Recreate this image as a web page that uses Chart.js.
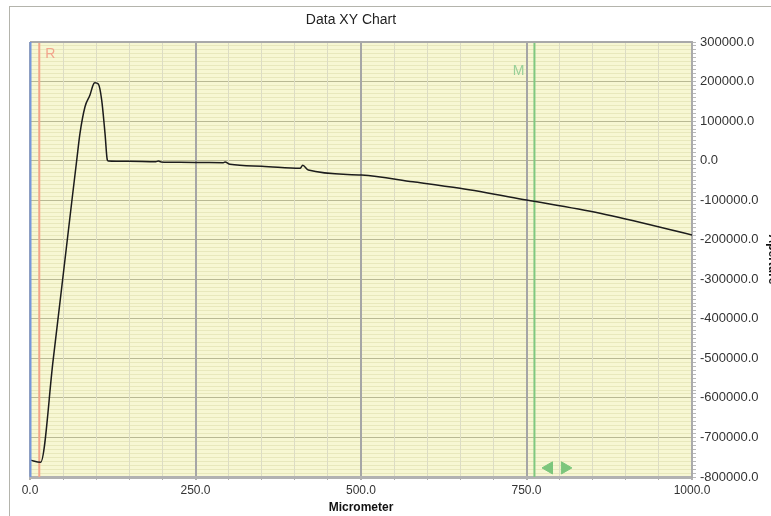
<!DOCTYPE html>
<html>
<head>
<meta charset="utf-8">
<script src="https://cdn.jsdelivr.net/npm/chart.js@4.4.0/dist/chart.umd.min.js"></script>
<style>
    html, body { margin: 0; padding: 0; background: #fff; overflow: hidden; }
    #wrap { position: relative; width: 787px; height: 516px; }
</style>
</head>
<body>
<div id="wrap"><canvas id="chart"></canvas></div>
<script>
// values
const micrometer = [0, 16, 35, 63.4, 70.5, 75.5, 83.1, 90.6, 94.6, 96.5, 98.2, 103.2, 108.3, 113.3, 116.8, 118.3,
    150, 190, 194, 198, 226.6, 260, 292, 294.6, 302, 350, 407.9, 412, 420.4, 501, 578.5, 649.5, 750, 861, 1000]
const aperture = [-757000, -763000, -504000, -99600, 0, 69000, 136300, 165900, 188000, 195500, 197000, 193700, 153200, 69000, 1500, -1000,
    -1800, -2800, -1000, -3200, -4300, -4800, -5300, -3500, -9400, -14000, -19500, -11900, -23800, -36400, -53400, -70000, -99600, -133300, -188000]

const markerR = 14
const markerM = 762
const arrowX = [784, 808]
const arrowY = [-777000, -777000]

const xMin = 0, xMax = 1000
const yMin = -800000, yMax = 300000

const FONT = '"Liberation Sans", Arial, sans-serif'

// background, frame, borders, title and marker letters
const decor = {
    id: 'decor',
    beforeDraw(chart) {
        const { ctx, chartArea: a } = chart
        ctx.save()
        ctx.fillStyle = '#ffffff'
        ctx.fillRect(0, 0, chart.width, chart.height)
        ctx.strokeStyle = '#b4b4ac'
        ctx.lineWidth = 1
        ctx.strokeRect(9.5, 6.5, 1000, 1000)
        ctx.fillStyle = '#f7f7d3'
        ctx.fillRect(a.left, a.top, a.right - a.left, a.bottom - a.top)
        ctx.fillStyle = '#222'
        ctx.font = '14px ' + FONT
        ctx.textAlign = 'center'
        ctx.textBaseline = 'middle'
        ctx.fillText('Data XY Chart', 351, 20)
        ctx.restore()
    },
    afterDatasetsDraw(chart) {
        const { ctx, chartArea: a, scales } = chart
        ctx.save()
        // top border
        ctx.strokeStyle = '#a9a9a9'
        ctx.lineWidth = 2
        ctx.beginPath()
        ctx.moveTo(a.left, a.top)
        ctx.lineTo(a.right, a.top)
        ctx.stroke()
        // left border (blue)
        ctx.strokeStyle = '#7496dc'
        ctx.beginPath()
        ctx.moveTo(a.left + 0.5, a.top)
        ctx.lineTo(a.left + 0.5, a.bottom)
        ctx.stroke()

        ctx.font = '14px ' + FONT
        ctx.textBaseline = 'middle'
        ctx.textAlign = 'left'
        ctx.fillStyle = '#f2a48c'
        ctx.fillText('R', scales.x.getPixelForValue(markerR) + 6, 54)
        ctx.textAlign = 'right'
        ctx.fillStyle = '#98cf98'
        ctx.fillText('M', scales.x.getPixelForValue(markerM) - 10, 71)
        ctx.restore()
    }
}

const ctx = document.getElementById('chart').getContext('2d')

new Chart(ctx, {
    type: 'scatter',
    data: {
        datasets: [
            {
                label: 'Aperture',
                data: micrometer.map((x, i) => ({ x: x, y: aperture[i] })),
                showLine: true,
                borderColor: '#1c1c1c',
                borderWidth: 1.5,
                pointRadius: 0,
                cubicInterpolationMode: 'monotone',
            },
            {
                label: 'R',
                data: [{ x: markerR, y: yMin }, { x: markerR, y: yMax }],
                showLine: true,
                borderColor: '#f2a48c',
                borderWidth: 2,
                pointRadius: 0,
            },
            {
                label: 'M',
                data: [{ x: markerM, y: yMin }, { x: markerM, y: yMax }],
                showLine: true,
                borderColor: '#80c880',
                borderWidth: 2,
                pointRadius: 0,
            },
            {
                label: 'arrows',
                data: arrowX.map((x, i) => ({ x: x, y: arrowY[i] })),
                pointStyle: 'triangle',
                rotation: [-90, 90],
                pointRadius: 7,
                backgroundColor: '#7cc67c',
                borderColor: '#7cc67c',
                borderWidth: 1,
            },
        ],
    },
    options: {
        responsive: true,
        maintainAspectRatio: false,
        animation: false,
        layout: { padding: { top: 42, left: 30, right: 0, bottom: 0 } },
        plugins: {
            legend: { display: false },
            title: { display: false },
            tooltip: { enabled: false },
        },
        scales: {
            x: {
                type: 'linear',
                min: xMin,
                max: xMax,
                afterFit: (scale) => { scale.height = 39 },
                ticks: {
                    stepSize: 50,
                    autoSkip: false,
                    maxRotation: 0,
                    padding: 3,
                    color: '#333',
                    font: { family: FONT, size: 12 },
                    callback: (v) => (Math.round(v) % 250 === 0 ? Number(v).toFixed(1) : ''),
                },
                grid: {
                    z: -1,
                    tickLength: 3,
                    color: (c) => (c.tick && Math.round(c.tick.value) % 250 === 0 ? '#a6a6a6' : '#dcdcc4'),
                    lineWidth: (c) => (c.tick && Math.round(c.tick.value) % 250 === 0 ? 2 : 1),
                    tickColor: '#b0b0b0',
                },
                border: { color: '#b2b2b2', width: 3 },
                title: {
                    display: true,
                    text: 'Micrometer',
                    color: '#111',
                    font: { family: FONT, size: 12, weight: 'bold' },
                    padding: { top: 0, bottom: 1 },
                },
            },
            y: {
                type: 'linear',
                position: 'right',
                min: yMin,
                max: yMax,
                afterFit: (scale) => { scale.width = 95 },
                ticks: {
                    stepSize: 10000,
                    autoSkip: false,
                    padding: 4,
                    color: '#333',
                    font: { family: FONT, size: 13 },
                    callback: (v) => (Math.round(v) % 100000 === 0 ? Number(v).toFixed(1) : ''),
                },
                grid: {
                    z: -2,
                    tickLength: 4,
                    color: (c) => (c.tick && Math.round(c.tick.value) % 100000 === 0 ? '#b9b993' : '#e8e8bc'),
                    tickColor: '#b8b8b8',
                },
                border: { color: '#ababab', width: 2 },
                title: {
                    display: true,
                    text: 'Aperture',
                    color: '#111',
                    font: { family: FONT, size: 12, weight: 'bold' },
                    padding: { top: 7, bottom: 0 },
                },
            },
        },
    },
    plugins: [decor],
})
</script>
</body>
</html>
